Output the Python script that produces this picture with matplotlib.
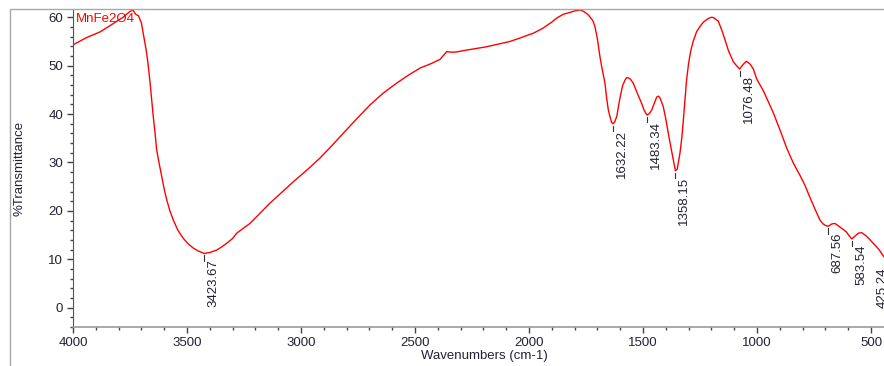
import matplotlib
matplotlib.use("Agg")
import matplotlib.pyplot as plt
from matplotlib.patches import Rectangle
from matplotlib.ticker import MultipleLocator

plt.rcParams['font.family'] = ['Liberation Sans', 'DejaVu Sans']

# Spectrum data (wavenumber cm-1, %Transmittance)
wavenumber = [4000, 3940, 3880, 3820, 3780, 3750, 3738, 3725, 3713, 3700, 3692,
              3685, 3677, 3670, 3662, 3655, 3648, 3640, 3633, 3625, 3611, 3600,
              3589, 3575, 3560, 3540, 3516, 3495, 3472, 3450, 3424, 3400, 3370,
              3350, 3326, 3300, 3282, 3250, 3224, 3180, 3136, 3080, 3034, 2970,
              2917, 2870, 2829, 2760, 2697, 2640, 2580, 2530, 2478, 2430, 2390,
              2361, 2345, 2320, 2288, 2186, 2083, 2040, 1981, 1940, 1900, 1879,
              1850, 1820, 1800, 1776, 1760, 1740, 1720, 1711, 1700, 1689, 1680,
              1667, 1660, 1652, 1645, 1638, 1632, 1625, 1615, 1608, 1601, 1590,
              1579, 1572, 1565, 1555, 1543, 1525, 1506, 1495, 1483, 1472, 1462,
              1450, 1440, 1432, 1425, 1411, 1400, 1389, 1378, 1367, 1358, 1350,
              1345, 1338, 1330, 1323, 1316, 1309, 1300, 1290, 1280, 1265, 1250,
              1235, 1215, 1200, 1190, 1170, 1155, 1140, 1126, 1104, 1090, 1076,
              1060, 1046, 1030, 1016, 1001, 972, 950, 928, 899, 870, 840, 811,
              790, 768, 745, 724, 710, 700, 688, 672, 658, 640, 620, 607, 595,
              584, 570, 555, 541, 520, 490, 465, 443, 425]
transmittance = [54.3, 55.8, 57.0, 58.8, 60.0, 61.2, 61.5, 60.6, 60.3, 58.8, 56.7,
                 54.8, 52.6, 50.0, 46.5, 42.9, 39.5, 36.0, 32.6, 30.5, 27.1, 24.5,
                 22.3, 20.0, 18.1, 16.0, 14.3, 13.2, 12.3, 11.7, 11.2, 11.4, 11.9,
                 12.5, 13.3, 14.3, 15.4, 16.5, 17.4, 19.5, 21.6, 24.0, 26.0, 28.6,
                 30.9, 33.2, 35.3, 38.8, 41.9, 44.3, 46.4, 48.0, 49.5, 50.4, 51.3,
                 52.9, 52.8, 52.8, 53.1, 53.9, 55.0, 55.7, 56.7, 57.7, 59.0, 59.8,
                 60.6, 61.0, 61.3, 61.5, 61.2, 60.5, 59.3, 58.1, 55.5, 51.9, 49.5,
                 46.4, 43.5, 40.8, 39.5, 38.3, 38.0, 38.3, 39.5, 41.5, 43.3, 45.8,
                 47.0, 47.5, 47.5, 47.2, 46.4, 44.3, 42.2, 40.8, 39.8, 40.1, 40.8,
                 42.3, 43.5, 43.7, 43.3, 41.5, 39.0, 36.0, 33.2, 30.5, 28.3, 28.6,
                 30.0, 31.9, 35.0, 38.8, 43.0, 47.0, 50.5, 53.2, 55.0, 57.0, 58.1,
                 59.0, 59.7, 60.0, 59.9, 59.2, 57.4, 55.3, 53.2, 50.8, 50.0, 49.3,
                 50.3, 50.9, 50.3, 49.3, 47.2, 44.8, 42.5, 40.2, 36.7, 33.0, 29.8,
                 27.3, 25.3, 22.8, 20.3, 18.1, 17.3, 17.0, 16.8, 17.3, 17.4, 16.8,
                 16.1, 15.6, 14.8, 14.2, 14.8, 15.4, 15.5, 14.8, 13.3, 12.0, 10.5,
                 9.5]

# Peak annotations
peak_wn = [3423.67, 1632.22, 1483.34, 1358.15, 1076.48, 687.56, 583.54, 425.24]
peak_T = [11.2, 38.0, 39.8, 28.3, 49.3, 16.8, 14.2, 9.6]
peak_labels = ["3423.67", "1632.22", "1483.34", "1358.15", "1076.48",
               "687.56", "583.54", "425.24"]

x_ticks = [4000, 3500, 3000, 2500, 2000, 1500, 1000, 500]
y_ticks = [0, 10, 20, 30, 40, 50, 60]

W, H = 884, 366
fig = plt.figure(figsize=(W / 100, H / 100), dpi=100)
left_px, right_px, top_px, bottom_px = 73, 893.8, 9, 327.3
ax = fig.add_axes([left_px / W, 1 - bottom_px / H,
                   (right_px - left_px) / W, (bottom_px - top_px) / H])

ax.plot(wavenumber, transmittance, color='#ff0000', lw=1.0)
ax.set_xlim(4000, 400)
ax.set_ylim(-4.05, 61.7)

ax.set_xticks(x_ticks)
ax.set_yticks(y_ticks)
ax.xaxis.set_minor_locator(MultipleLocator(100))
ax.yaxis.set_minor_locator(MultipleLocator(2))
ax.tick_params(which='major', direction='out', length=4, width=1,
               color='#444444', labelsize=9.5, labelcolor='#222233', pad=3)
ax.tick_params(which='minor', direction='out', length=2.5, width=1,
               color='#444444')

for s in ['top', 'right']:
    ax.spines[s].set_visible(False)
ax.spines['left'].set_color('#555555')
ax.spines['bottom'].set_color('#999999')
ax.spines['bottom'].set_linewidth(1.2)

ax.set_xlabel("Wavenumbers (cm-1)", fontsize=9.5, color='#222233')
ax.xaxis.set_label_coords((484.7 - left_px) / (right_px - left_px),
                          -(349.5 - bottom_px) / (bottom_px - top_px))
ax.set_ylabel("%Transmittance", fontsize=9.5, color='#222233')
ax.yaxis.set_label_coords(-(left_px - 25.5) / (right_px - left_px), 0.5)

ax.text(0.003, 0.988, "MnFe2O4", transform=ax.transAxes, color='#ff0000',
        fontsize=9.5, ha='left', va='top')

for wn, t, lab in zip(peak_wn, peak_T, peak_labels):
    ax.plot([wn, wn], [t - 0.4, t - 1.5], color='#333333', lw=0.8,
            clip_on=False)
    dx = 3 if wn > 430 else -11
    ax.annotate(lab, xy=(wn, t), xytext=(dx, -6), textcoords='offset pixels',
                rotation=90, ha='left', va='top', fontsize=9.5,
                color='#222233', annotation_clip=False)

fig.patches.append(Rectangle((10 / W, -0.1), 1.5, 1 - top_px / H + 0.1,
                             transform=fig.transFigure, fill=False,
                             edgecolor='#a8a8a8', lw=1.0, zorder=0))

fig.savefig("out.png", dpi=100)
